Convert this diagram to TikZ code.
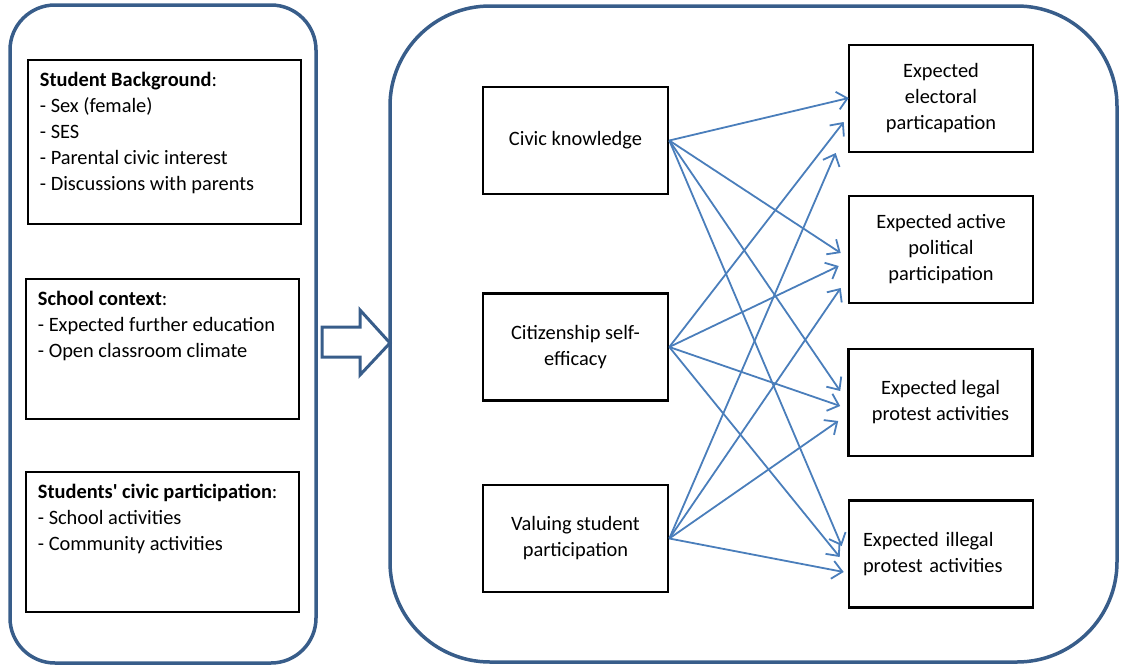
\documentclass[tikz,border=0pt]{standalone}
\usepackage{fontspec}
\setmainfont{Carlito}
\usetikzlibrary{positioning,arrows.meta}
\definecolor{frameblue}{RGB}{56,93,138}
\definecolor{linkblue}{RGB}{74,126,187}
\tikzset{
  panel/.style={draw=frameblue, line width=1.75pt},
  lbox/.style={draw, line width=0.9pt, inner sep=6pt, anchor=north west},
  midbox/.style={draw, line width=1.3pt, align=center,
                 minimum width=92.5pt, minimum height=53.5pt},
  outbox/.style={midbox, minimum width=92pt},
  fa/.style={-{Straight Barb[length=5pt,width=9pt]}, linkblue, line width=0.9pt}
}
% top-aligned list inside a fixed-height box
\newcommand{\boxlist}[2]{\parbox[c][#1][t]{124.5pt}{#2}}

\begin{document}
\begin{tikzpicture}[x=0.5pt, y=-0.5pt, font=\fontsize{10.2}{13}\selectfont]
  \useasboundingbox (0,0) rectangle (1121,665);
  % two panels and the block arrow between them
  \draw[panel, rounded corners=22.5pt] (10,5) rectangle (316,663);
  \draw[panel, rounded corners=50pt] (390,6) rectangle (1117,662);
  \draw[draw=frameblue, line width=1.5pt, fill=white]
    (322,327) -- (360,327) -- (360,310) -- (390,343) -- (360,375)
    -- (360,357) -- (322,357) -- cycle;

  % background variables
  \node[lbox] (bg) at (27,59) {\boxlist{70pt}{\textbf{Student Background}:\\
    - Sex (female)\\ - SES\\ - Parental civic interest\\ - Discussions with parents}};
  \node[lbox] (sc) at (25,278) {\boxlist{58pt}{\textbf{School context}:\\
    - Expected further education\\ - Open classroom climate}};
  \node[lbox] (sp) at (25,471) {\boxlist{58pt}{\textbf{Students\textquotesingle\ civic participation}:\\
    - School activities\\ - Community activities}};

  % predictors
  \node[midbox] (ck) at (575.5,140.5) {Civic knowledge};
  \node[midbox] (se) at (575.5,347) {Citizenship self-\\efficacy};
  \node[midbox] (vp) at (575.5,538.5) {Valuing student\\participation};

  % outcomes
  \node[outbox] (el) at (941,98.5) {Expected\\electoral\\particapation};
  \node[outbox] (ap) at (941,249.5) {Expected active\\political\\participation};
  \node[outbox] (lp) at (940.5,402.5) {Expected legal\\protest activities};
  \node[outbox, align=left, text width=78pt, inner sep=7pt] (ip) at (941,554)
    {Expected illegal\\protest activities};

  \draw[fa] (ck.east) -- ([shift={(1,-0.5)}]el.west);
  \draw[fa] (se.east) -- ([shift={(-4,23.5)}]el.west);
  \draw[fa] (vp.east) -- ([shift={(-12,54.5)}]el.west);
  \draw[fa] (ck.east) -- ([shift={(-7,3.5)}]ap.west);
  \draw[fa] (se.east) -- ([shift={(-9,16.5)}]ap.west);
  \draw[fa] (vp.east) -- ([shift={(-7,38.5)}]ap.west);
  \draw[fa] (ck.east) -- ([shift={(-7,-11.5)}]lp.west);
  \draw[fa] (se.east) -- ([shift={(-7,3.5)}]lp.west);
  \draw[fa] (vp.east) -- ([shift={(-9,18.5)}]lp.west);
  \draw[fa] (ck.east) -- ([shift={(-6,-8)}]ip.west);
  \draw[fa] (se.east) -- ([shift={(-8,3)}]ip.west);
  \draw[fa] (vp.east) -- ([shift={(-4,18)}]ip.west);
\end{tikzpicture}
\end{document}
